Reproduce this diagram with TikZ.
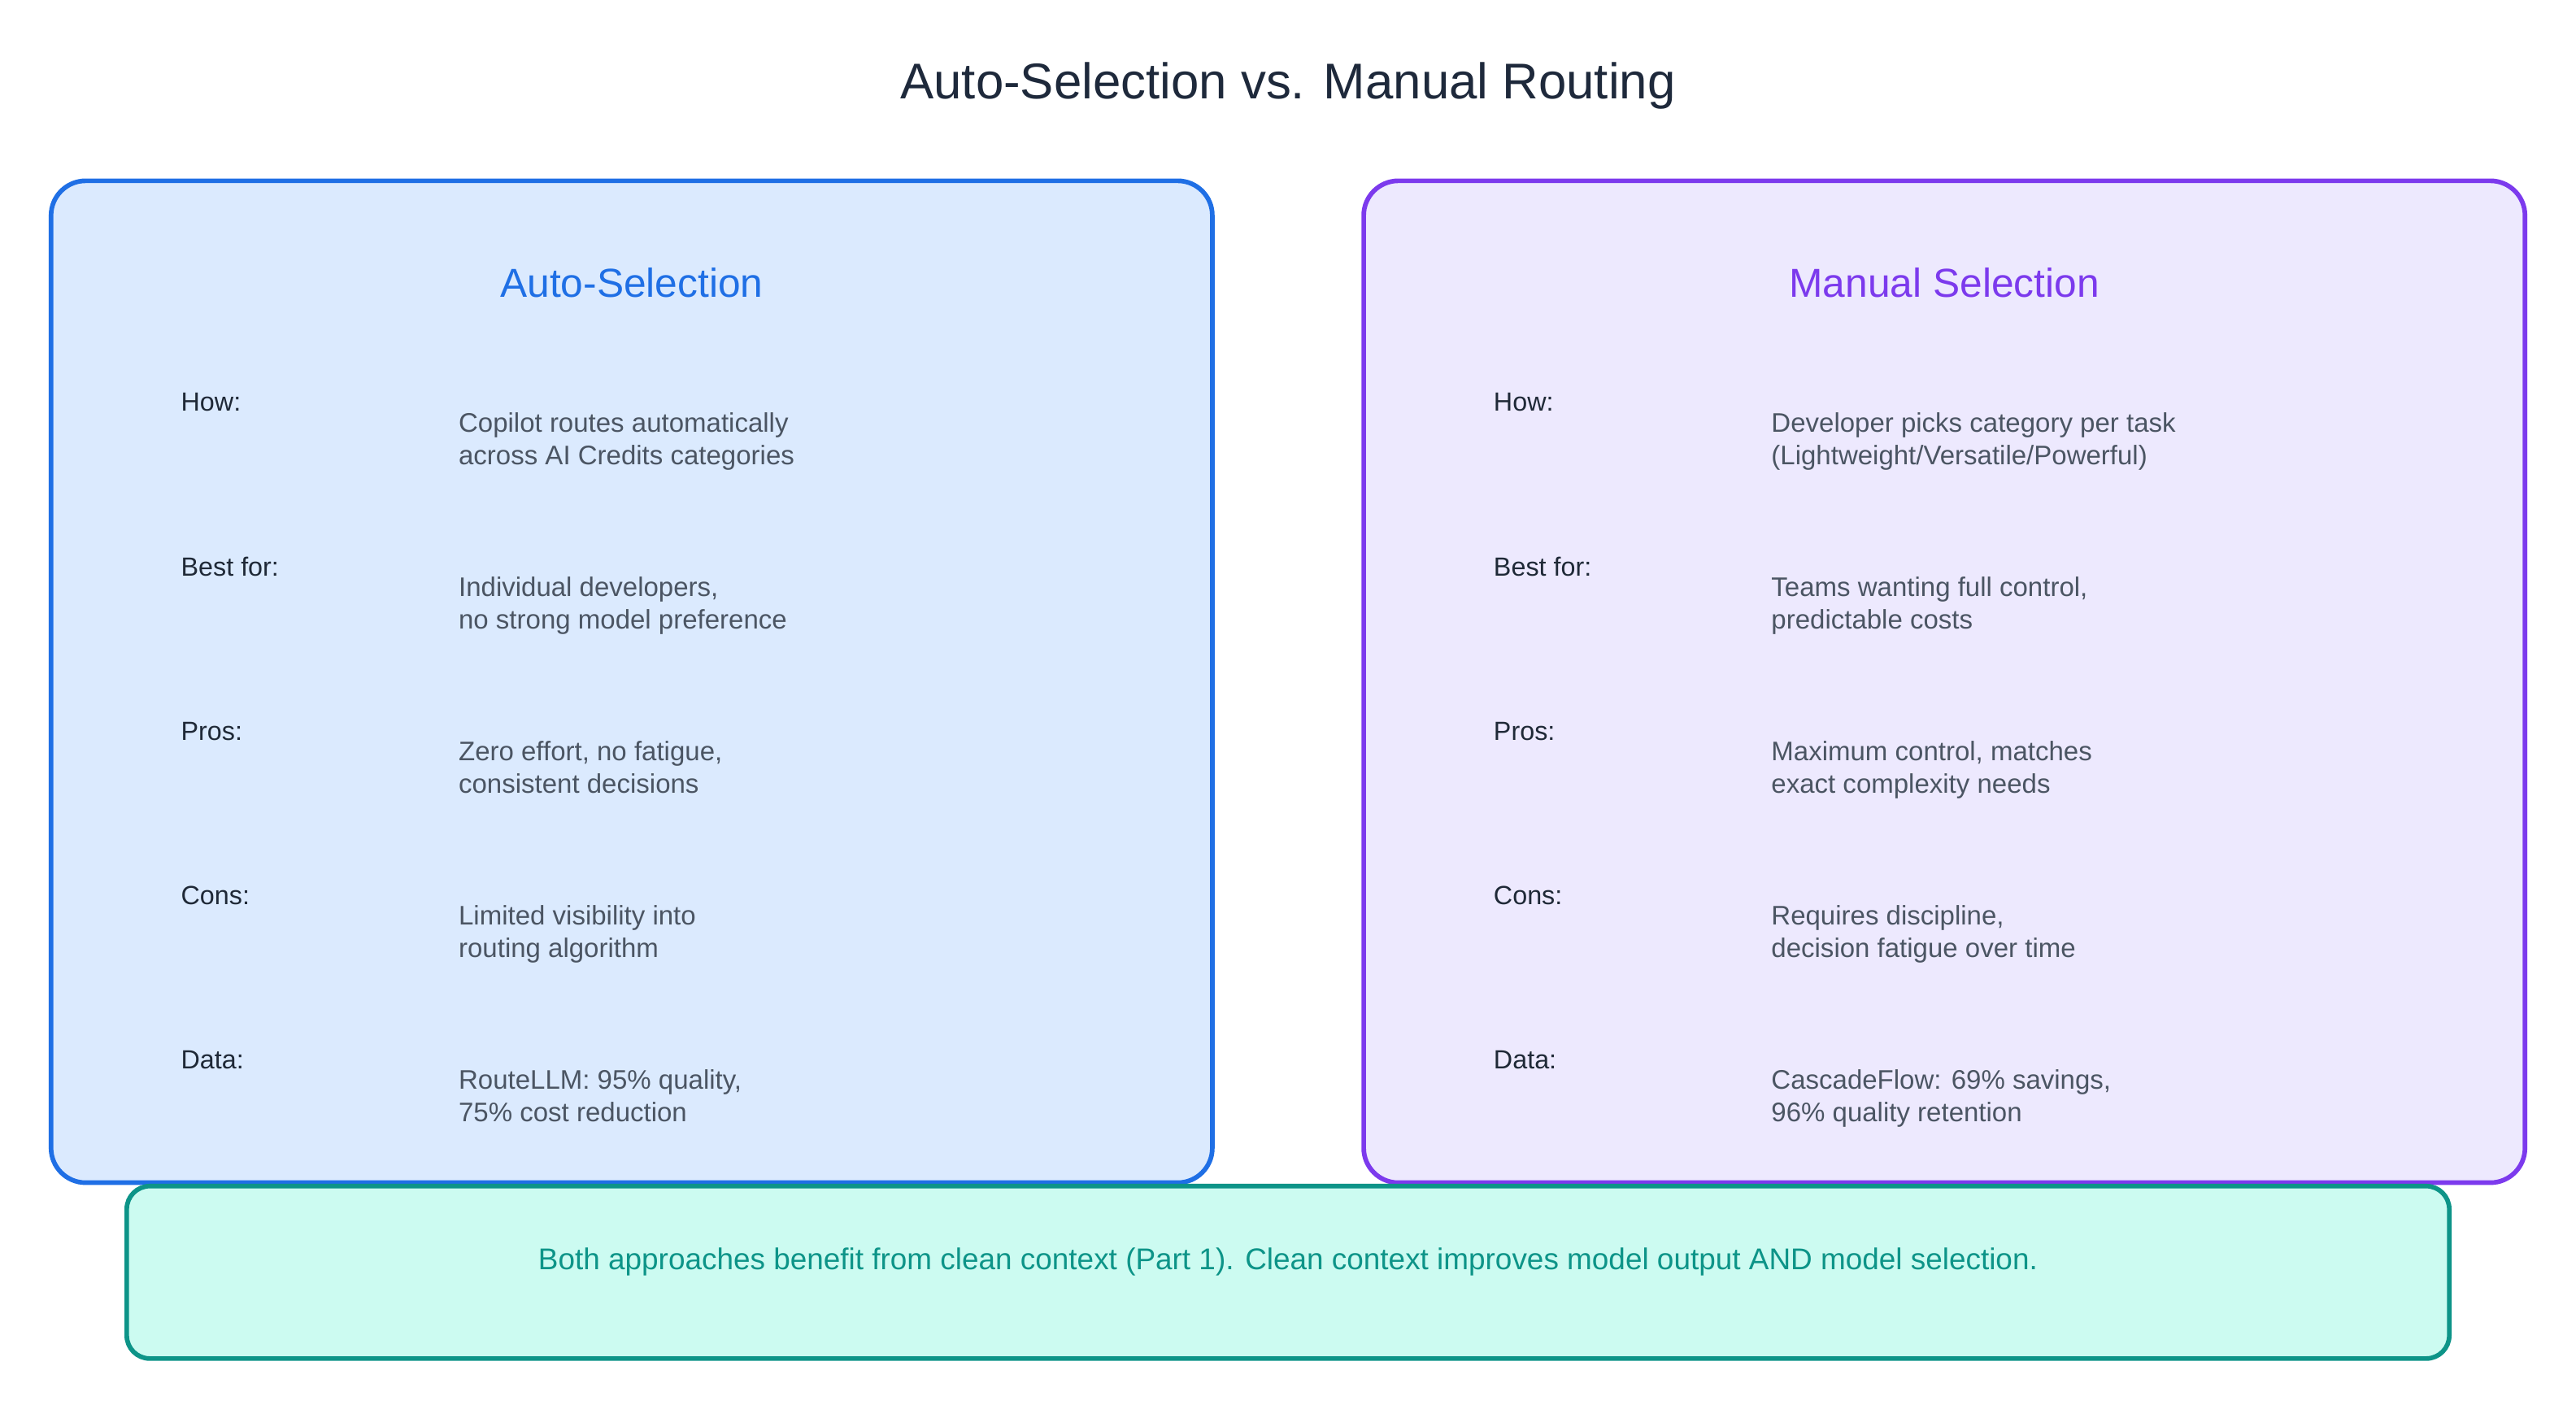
\documentclass[tikz,border=0pt]{standalone}
\usepackage{fontspec}
\setmainfont{Liberation Sans}
\usetikzlibrary{positioning}
\definecolor{autofill}{HTML}{DBEAFE}
\definecolor{autoline}{HTML}{1F6FE5}
\definecolor{manfill}{HTML}{EDE9FE}
\definecolor{manline}{HTML}{7C3AED}
\definecolor{notefill}{HTML}{CCFBF1}
\definecolor{noteline}{HTML}{0D9488}
\definecolor{titletext}{HTML}{1E293B}
\definecolor{labeltext}{HTML}{1F2937}
\definecolor{valuetext}{HTML}{4B5563}
\tikzset{
  panel/.style={draw, line width=1.6pt, rounded corners=12pt, inner sep=0pt},
  heading/.style={font=\fontsize{14}{16}\selectfont},
  lbl/.style={anchor=west, text=labeltext, font=\fontsize{9.1}{11}\selectfont},
  val/.style={anchor=north west, text=valuetext, align=left, font=\fontsize{9.3}{11.3}\selectfont}
}
\begin{document}
\begin{tikzpicture}[x=0.02cm, y=-0.02cm]
    \useasboundingbox (0,0) rectangle (1568,855);
    % Titel
    \node (title) [text=titletext, font=\fontsize{17.4}{20}\selectfont] at (784,52) {Auto-Selection vs. Manual Routing};

    % Panels
    \node (autobox) [panel, draw=autoline, fill=autofill, minimum width=14.14cm, minimum height=12.2cm] at (384.5,415) {};
    \node (manbox) [panel, draw=manline, fill=manfill, minimum width=14.14cm, minimum height=12.2cm] at (1183.5,415) {};
    \node (autohead) [heading, text=autoline] at (384.5,172) {Auto-Selection};
    \node (manhead) [heading, text=manline] at (1183.5,172) {Manual Selection};

    % Zeilen links
    \node (ahow) [lbl] at (104,245) {How:};
    \node (ahowv) [val] at (273,245) {Copilot routes automatically\\across AI Credits categories};
    \node (abest) [lbl] at (104,345) {Best for:};
    \node (abestv) [val] at (273,345) {Individual developers,\\no strong model preference};
    \node (apros) [lbl] at (104,445) {Pros:};
    \node (aprosv) [val] at (273,445) {Zero effort, no fatigue,\\consistent decisions};
    \node (acons) [lbl] at (104,545) {Cons:};
    \node (aconsv) [val] at (273,545) {Limited visibility into\\routing algorithm};
    \node (adata) [lbl] at (104,645) {Data:};
    \node (adatav) [val] at (273,645) {RouteLLM: 95\% quality,\\75\% cost reduction};

    % Zeilen rechts
    \node (mhow) [lbl] at (903,245) {How:};
    \node (mhowv) [val] at (1072,245) {Developer picks category per task\\(Lightweight/Versatile/Powerful)};
    \node (mbest) [lbl] at (903,345) {Best for:};
    \node (mbestv) [val] at (1072,345) {Teams wanting full control,\\predictable costs};
    \node (mpros) [lbl] at (903,445) {Pros:};
    \node (mprosv) [val] at (1072,445) {Maximum control, matches\\exact complexity needs};
    \node (mcons) [lbl] at (903,545) {Cons:};
    \node (mconsv) [val] at (1072,545) {Requires discipline,\\decision fatigue over time};
    \node (mdata) [lbl] at (903,645) {Data:};
    \node (mdatav) [val] at (1072,645) {CascadeFlow: 69\% savings,\\96\% quality retention};

    % Hinweis unten
    \node (notebox) [panel, draw=noteline, fill=notefill, rounded corners=8pt, minimum width=28.28cm, minimum height=2.1cm] at (784,774.5) {};
    \node (note) [text=noteline, font=\fontsize{10.4}{12}\selectfont] at (784,768) {Both approaches benefit from clean context (Part 1). Clean context improves model output AND model selection.};
\end{tikzpicture}
\end{document}
